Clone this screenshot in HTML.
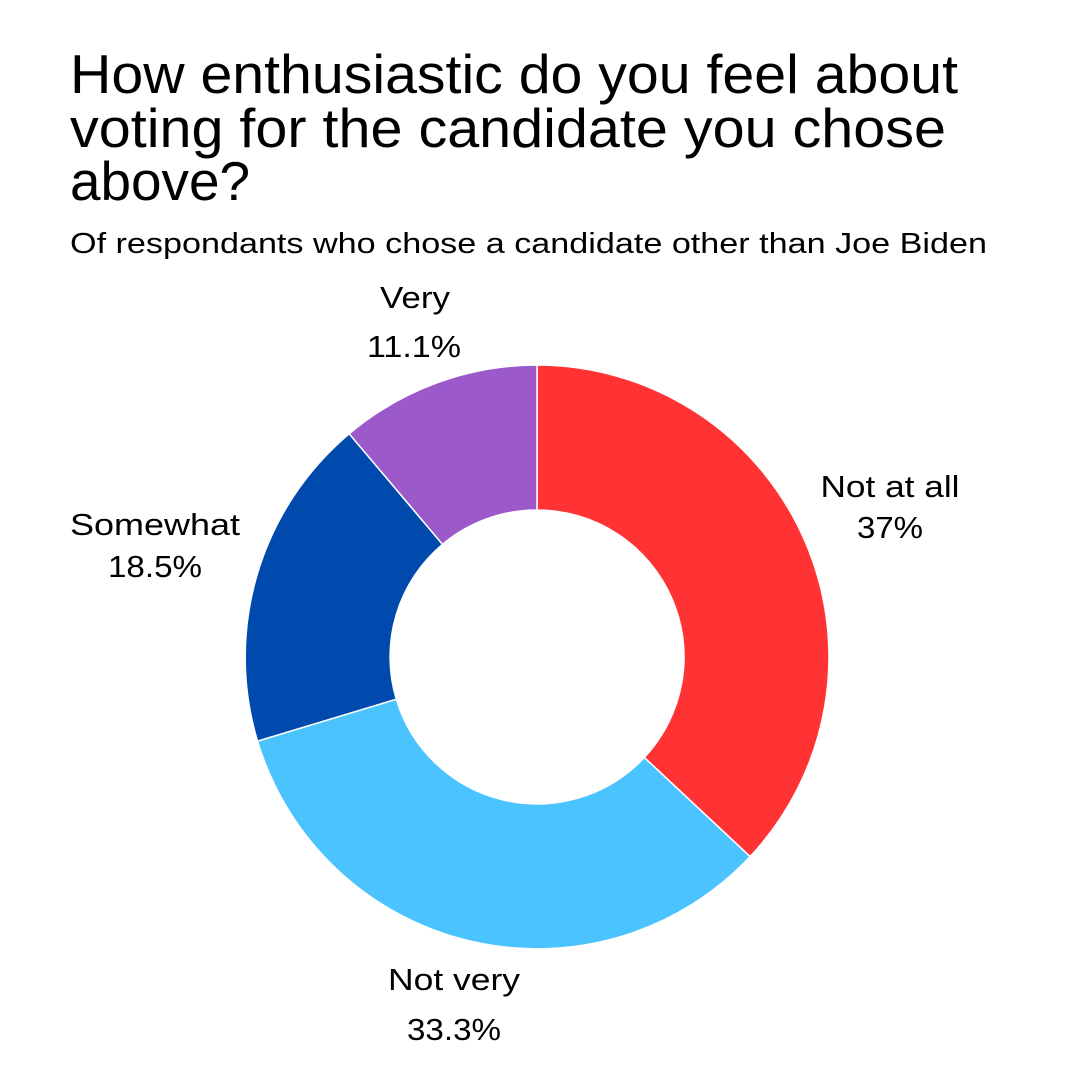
<!DOCTYPE html>
<html><head><meta charset="utf-8"><style>html,body{margin:0;padding:0;background:#fff}</style></head>
<body>
<svg width="1080" height="1080" viewBox="0 0 1080 1080" xmlns="http://www.w3.org/2000/svg" font-family="Liberation Sans, sans-serif">
<rect width="1080" height="1080" fill="#fff"/>
<text x="70" y="93" font-size="55" textLength="888" lengthAdjust="spacingAndGlyphs">How enthusiastic do you feel about</text>
<text x="70" y="147" font-size="55" textLength="876" lengthAdjust="spacingAndGlyphs">voting for the candidate you chose</text>
<text x="70" y="200" font-size="55" textLength="180" lengthAdjust="spacingAndGlyphs">above?</text>
<text x="70" y="253" font-size="29" textLength="917" lengthAdjust="spacingAndGlyphs">Of respondants who chose a candidate other than Joe Biden</text>
<g stroke="#fff" stroke-width="1.5">
<path d="M537,365 A292,292 0 0 1 750.1,856.6 L644.3,757.5 A147,147 0 0 0 537,510 Z" fill="#FF3333"/>
<path d="M750.1,856.6 A292,292 0 0 1 257.5,741.1 L396.3,699.2 A147,147 0 0 0 644.3,757.5 Z" fill="#4BC3FF"/>
<path d="M257.5,741.1 A292,292 0 0 1 349.2,433.8 L442.5,544.3 A147,147 0 0 0 396.3,699.2 Z" fill="#004AAD"/>
<path d="M349.2,433.8 A292,292 0 0 1 537,365 L537,510 A147,147 0 0 0 442.5,544.3 Z" fill="#9B59C9"/>
</g>
<g font-size="31" text-anchor="middle" lengthAdjust="spacingAndGlyphs">
<text x="415" y="308" textLength="70" lengthAdjust="spacingAndGlyphs">Very</text>
<text x="414" y="357" textLength="94" lengthAdjust="spacingAndGlyphs">11.1%</text>
<text x="890" y="497" textLength="139" lengthAdjust="spacingAndGlyphs">Not at all</text>
<text x="890" y="538" textLength="66" lengthAdjust="spacingAndGlyphs">37%</text>
<text x="155" y="535" textLength="170" lengthAdjust="spacingAndGlyphs">Somewhat</text>
<text x="155" y="577" textLength="94" lengthAdjust="spacingAndGlyphs">18.5%</text>
<text x="454" y="990" textLength="132" lengthAdjust="spacingAndGlyphs">Not very</text>
<text x="454" y="1040" textLength="94" lengthAdjust="spacingAndGlyphs">33.3%</text>
</g>
</svg>
</body></html>
